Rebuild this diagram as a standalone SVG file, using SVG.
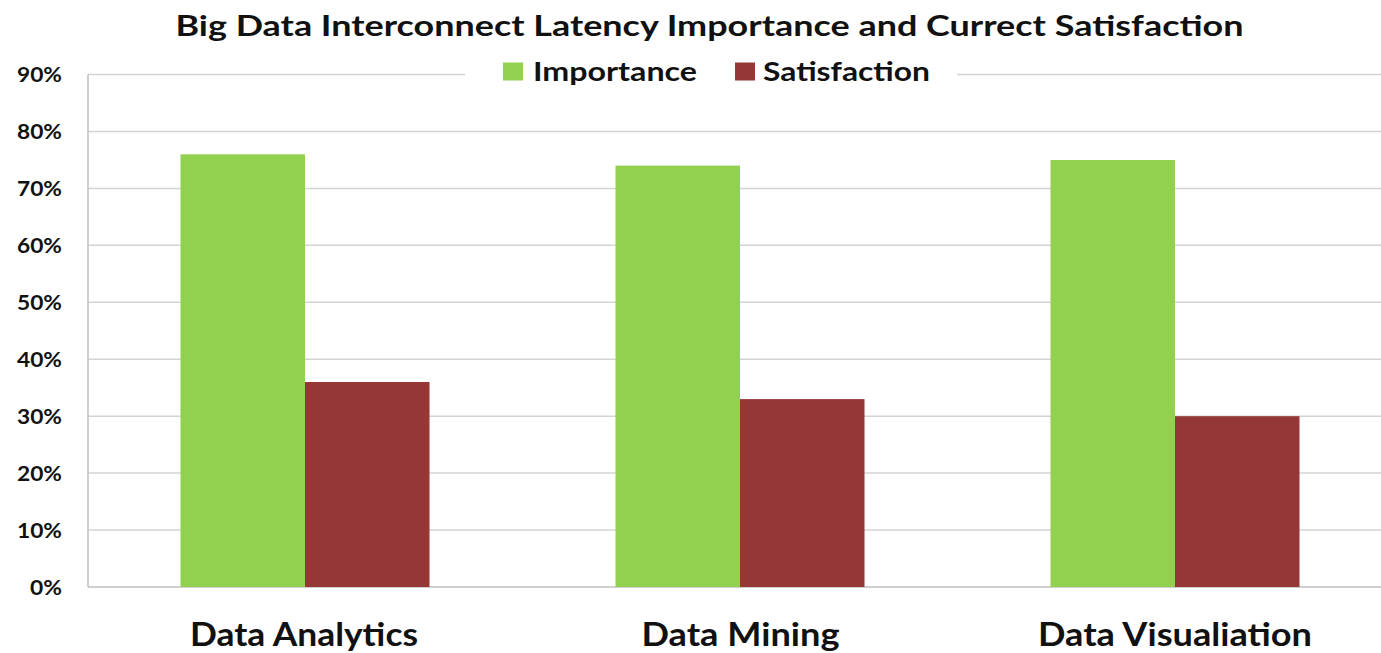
<svg xmlns="http://www.w3.org/2000/svg" width="1381" height="653" viewBox="0 0 1381 653">
<style>
.grid{stroke:#d4d4d4;stroke-width:1.5;fill:none}
.axis{stroke:#bfbfbf;stroke-width:1.5;fill:none}
.ylab{font-family:Lato,"Open Sans",sans-serif;font-weight:bold;font-size:20px;fill:#111;text-anchor:end}
.cat{font-family:Lato,"Open Sans",sans-serif;font-weight:bold;font-size:32px;fill:#111;text-anchor:middle}
.leg{font-family:Lato,"Open Sans",sans-serif;font-weight:bold;font-size:27px;fill:#111}
.title{font-family:Lato,"Open Sans",sans-serif;font-weight:bold;font-size:28px;fill:#111;text-anchor:middle}
.imp{fill:#92D050}
.sat{fill:#953735}
</style>
<rect width="1381" height="653" fill="#fff"/>
<g id="gridlines">
<line class="grid" x1="88" y1="74.5" x2="1381" y2="74.5"/>
<line class="grid" x1="88" y1="131.5" x2="1381" y2="131.5"/>
<line class="grid" x1="88" y1="188.4" x2="1381" y2="188.4"/>
<line class="grid" x1="88" y1="245.3" x2="1381" y2="245.3"/>
<line class="grid" x1="88" y1="302.3" x2="1381" y2="302.3"/>
<line class="grid" x1="88" y1="359.2" x2="1381" y2="359.2"/>
<line class="grid" x1="88" y1="416.2" x2="1381" y2="416.2"/>
<line class="grid" x1="88" y1="473.1" x2="1381" y2="473.1"/>
<line class="grid" x1="88" y1="530" x2="1381" y2="530"/>
<line class="axis" x1="88" y1="587" x2="1381" y2="587"/>
<line class="axis" x1="88" y1="74.5" x2="88" y2="587"/>
</g>
<g id="y-labels">
<text class="ylab" x="62" y="82" textLength="45" lengthAdjust="spacingAndGlyphs">90%</text>
<text class="ylab" x="62" y="139" textLength="45" lengthAdjust="spacingAndGlyphs">80%</text>
<text class="ylab" x="62" y="196" textLength="45" lengthAdjust="spacingAndGlyphs">70%</text>
<text class="ylab" x="62" y="253" textLength="45" lengthAdjust="spacingAndGlyphs">60%</text>
<text class="ylab" x="62" y="310" textLength="45" lengthAdjust="spacingAndGlyphs">50%</text>
<text class="ylab" x="62" y="367" textLength="45" lengthAdjust="spacingAndGlyphs">40%</text>
<text class="ylab" x="62" y="424" textLength="45" lengthAdjust="spacingAndGlyphs">30%</text>
<text class="ylab" x="62" y="481" textLength="45" lengthAdjust="spacingAndGlyphs">20%</text>
<text class="ylab" x="62" y="538" textLength="45" lengthAdjust="spacingAndGlyphs">10%</text>
<text class="ylab" x="62" y="595" textLength="32" lengthAdjust="spacingAndGlyphs">0%</text>
</g>
<g id="bars">
<rect class="imp" x="180.5" y="154.3" width="124.5" height="432.7"/>
<rect class="sat" x="305" y="382" width="124.5" height="205"/>
<rect class="imp" x="615.5" y="165.6" width="124.5" height="421.4"/>
<rect class="sat" x="740" y="399.1" width="124.5" height="187.9"/>
<rect class="imp" x="1050.5" y="160" width="124.5" height="427"/>
<rect class="sat" x="1175" y="416.2" width="124.5" height="170.8"/>
</g>
<g id="categories">
<text class="cat" x="304" y="646" textLength="228" lengthAdjust="spacingAndGlyphs">Data Analytics</text>
<text class="cat" x="740.5" y="646" textLength="198" lengthAdjust="spacingAndGlyphs">Data Mining</text>
<text class="cat" x="1175" y="646" textLength="274" lengthAdjust="spacingAndGlyphs">Data Visualiation</text>
</g>
<g id="legend">
<rect x="465" y="60" width="492" height="26" fill="#fff"/>
<rect class="imp" x="503" y="62.5" width="20" height="18"/>
<text class="leg" x="533" y="81" textLength="164" lengthAdjust="spacingAndGlyphs">Importance</text>
<rect class="sat" x="735" y="62.5" width="20" height="18"/>
<text class="leg" x="763" y="81" textLength="167" lengthAdjust="spacingAndGlyphs">Satisfaction</text>
</g>
<g id="title">
<text class="title" x="709.5" y="36" textLength="1068" lengthAdjust="spacingAndGlyphs">Big Data Interconnect Latency Importance and Currect Satisfaction</text>
</g>
</svg>
